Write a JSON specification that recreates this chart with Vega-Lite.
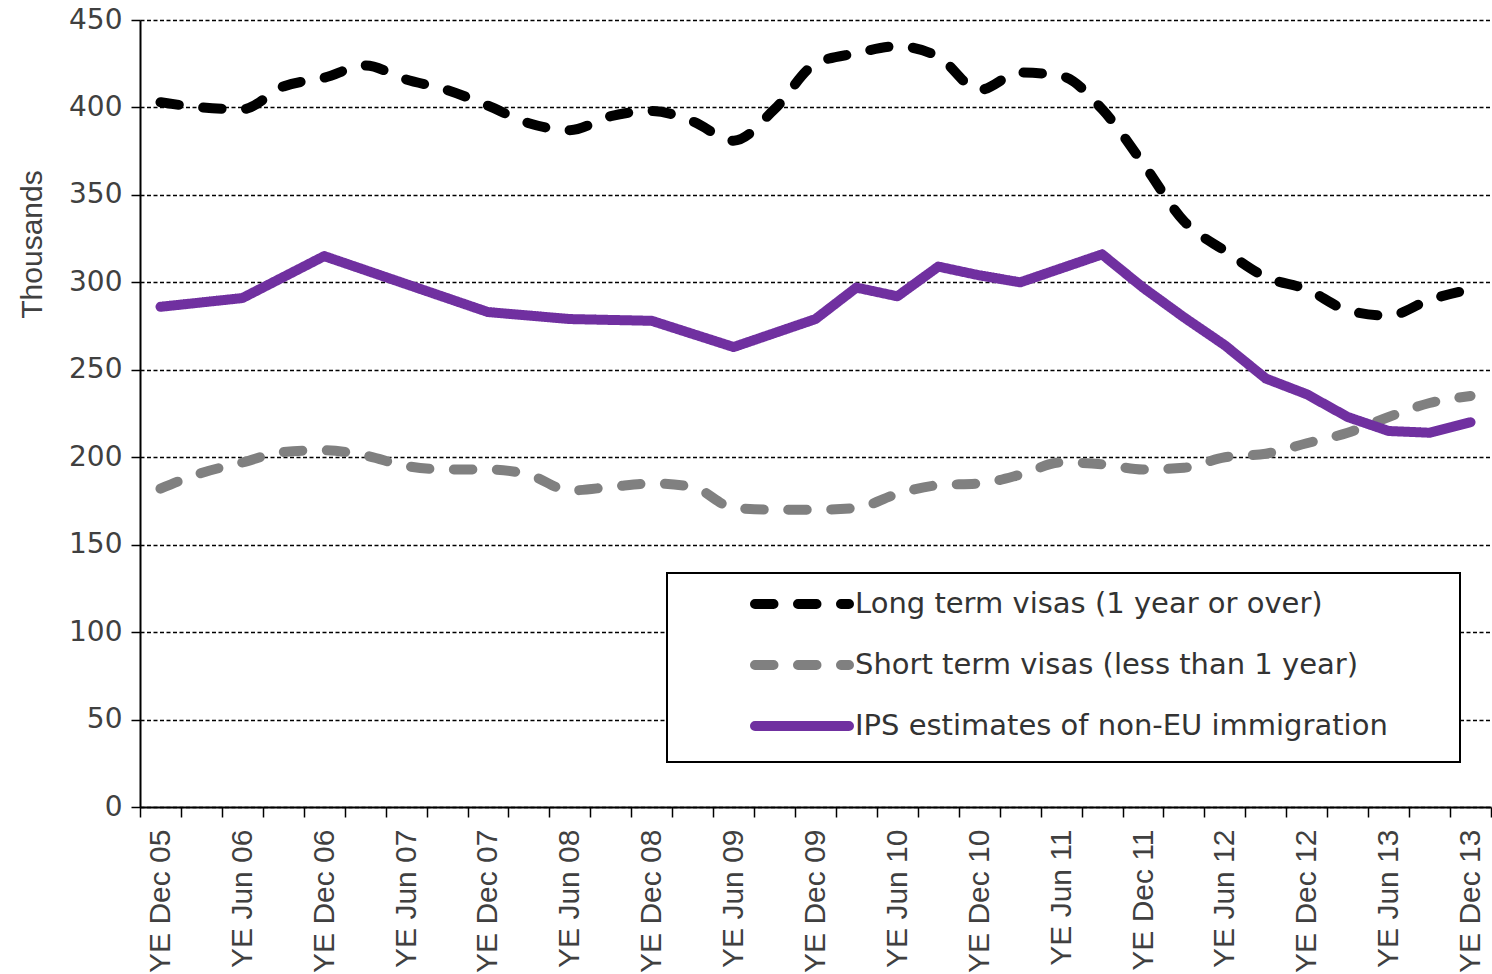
{
  "$schema": "https://vega.github.io/schema/vega-lite/v6.json",
  "width": 1351,
  "height": 787,
  "autosize": "none",
  "padding": {"left": 140, "top": 20, "right": 1, "bottom": 167},
  "background": "white",
  "config": {
    "font": "Liberation Sans",
    "view": {"stroke": null},
    "legend": {
      "orient": "none",
      "legendX": 527,
      "legendY": 553,
      "symbolType": "M5.7,0H15.1",
      "symbolSize": 400,
      "symbolStrokeWidth": 10,
      "labelFontSize": 29,
      "labelFont": "DejaVu Sans",
      "labelColor": "#333333",
      "labelOffset": 142,
      "labelLimit": 2000,
      "rowPadding": 21,
      "padding": 16,
      "strokeColor": "#000000",
      "strokeWidth": 2,
      "fillColor": "#ffffff"
    }
  },
  "data": {
    "values": [
      {"period": "YE Dec 05", "series": "Long term visas (1 year or over)", "value": 403},
      {"period": "YE Mar 06", "series": "Long term visas (1 year or over)", "value": 400},
      {"period": "YE Jun 06", "series": "Long term visas (1 year or over)", "value": 399},
      {"period": "YE Sep 06", "series": "Long term visas (1 year or over)", "value": 412},
      {"period": "YE Dec 06", "series": "Long term visas (1 year or over)", "value": 417},
      {"period": "YE Mar 07", "series": "Long term visas (1 year or over)", "value": 424},
      {"period": "YE Jun 07", "series": "Long term visas (1 year or over)", "value": 416},
      {"period": "YE Sep 07", "series": "Long term visas (1 year or over)", "value": 410},
      {"period": "YE Dec 07", "series": "Long term visas (1 year or over)", "value": 401},
      {"period": "YE Mar 08", "series": "Long term visas (1 year or over)", "value": 391},
      {"period": "YE Jun 08", "series": "Long term visas (1 year or over)", "value": 387},
      {"period": "YE Sep 08", "series": "Long term visas (1 year or over)", "value": 395},
      {"period": "YE Dec 08", "series": "Long term visas (1 year or over)", "value": 398},
      {"period": "YE Mar 09", "series": "Long term visas (1 year or over)", "value": 392},
      {"period": "YE Jun 09", "series": "Long term visas (1 year or over)", "value": 381},
      {"period": "YE Sep 09", "series": "Long term visas (1 year or over)", "value": 399},
      {"period": "YE Dec 09", "series": "Long term visas (1 year or over)", "value": 425},
      {"period": "YE Mar 10", "series": "Long term visas (1 year or over)", "value": 431},
      {"period": "YE Jun 10", "series": "Long term visas (1 year or over)", "value": 435},
      {"period": "YE Sep 10", "series": "Long term visas (1 year or over)", "value": 429},
      {"period": "YE Dec 10", "series": "Long term visas (1 year or over)", "value": 410},
      {"period": "YE Mar 11", "series": "Long term visas (1 year or over)", "value": 420},
      {"period": "YE Jun 11", "series": "Long term visas (1 year or over)", "value": 418},
      {"period": "YE Sep 11", "series": "Long term visas (1 year or over)", "value": 399},
      {"period": "YE Dec 11", "series": "Long term visas (1 year or over)", "value": 368},
      {"period": "YE Mar 12", "series": "Long term visas (1 year or over)", "value": 335},
      {"period": "YE Jun 12", "series": "Long term visas (1 year or over)", "value": 318},
      {"period": "YE Sep 12", "series": "Long term visas (1 year or over)", "value": 303},
      {"period": "YE Dec 12", "series": "Long term visas (1 year or over)", "value": 296},
      {"period": "YE Mar 13", "series": "Long term visas (1 year or over)", "value": 284},
      {"period": "YE Jun 13", "series": "Long term visas (1 year or over)", "value": 281},
      {"period": "YE Sep 13", "series": "Long term visas (1 year or over)", "value": 290},
      {"period": "YE Dec 13", "series": "Long term visas (1 year or over)", "value": 296},

      {"period": "YE Dec 05", "series": "Short term visas (less than 1 year)", "value": 182},
      {"period": "YE Mar 06", "series": "Short term visas (less than 1 year)", "value": 191},
      {"period": "YE Jun 06", "series": "Short term visas (less than 1 year)", "value": 197},
      {"period": "YE Sep 06", "series": "Short term visas (less than 1 year)", "value": 203},
      {"period": "YE Dec 06", "series": "Short term visas (less than 1 year)", "value": 204},
      {"period": "YE Mar 07", "series": "Short term visas (less than 1 year)", "value": 201},
      {"period": "YE Jun 07", "series": "Short term visas (less than 1 year)", "value": 195},
      {"period": "YE Sep 07", "series": "Short term visas (less than 1 year)", "value": 193},
      {"period": "YE Dec 07", "series": "Short term visas (less than 1 year)", "value": 193},
      {"period": "YE Mar 08", "series": "Short term visas (less than 1 year)", "value": 190},
      {"period": "YE Jun 08", "series": "Short term visas (less than 1 year)", "value": 181},
      {"period": "YE Sep 08", "series": "Short term visas (less than 1 year)", "value": 183},
      {"period": "YE Dec 08", "series": "Short term visas (less than 1 year)", "value": 185},
      {"period": "YE Mar 09", "series": "Short term visas (less than 1 year)", "value": 183},
      {"period": "YE Jun 09", "series": "Short term visas (less than 1 year)", "value": 171},
      {"period": "YE Sep 09", "series": "Short term visas (less than 1 year)", "value": 170},
      {"period": "YE Dec 09", "series": "Short term visas (less than 1 year)", "value": 170},
      {"period": "YE Mar 10", "series": "Short term visas (less than 1 year)", "value": 171},
      {"period": "YE Jun 10", "series": "Short term visas (less than 1 year)", "value": 179},
      {"period": "YE Sep 10", "series": "Short term visas (less than 1 year)", "value": 184},
      {"period": "YE Dec 10", "series": "Short term visas (less than 1 year)", "value": 185},
      {"period": "YE Mar 11", "series": "Short term visas (less than 1 year)", "value": 190},
      {"period": "YE Jun 11", "series": "Short term visas (less than 1 year)", "value": 197},
      {"period": "YE Sep 11", "series": "Short term visas (less than 1 year)", "value": 196},
      {"period": "YE Dec 11", "series": "Short term visas (less than 1 year)", "value": 193},
      {"period": "YE Mar 12", "series": "Short term visas (less than 1 year)", "value": 194},
      {"period": "YE Jun 12", "series": "Short term visas (less than 1 year)", "value": 200},
      {"period": "YE Sep 12", "series": "Short term visas (less than 1 year)", "value": 202},
      {"period": "YE Dec 12", "series": "Short term visas (less than 1 year)", "value": 208},
      {"period": "YE Mar 13", "series": "Short term visas (less than 1 year)", "value": 214},
      {"period": "YE Jun 13", "series": "Short term visas (less than 1 year)", "value": 223},
      {"period": "YE Sep 13", "series": "Short term visas (less than 1 year)", "value": 231},
      {"period": "YE Dec 13", "series": "Short term visas (less than 1 year)", "value": 235},

      {"period": "YE Dec 05", "series": "IPS estimates of non-EU immigration", "value": 286},
      {"period": "YE Jun 06", "series": "IPS estimates of non-EU immigration", "value": 291},
      {"period": "YE Dec 06", "series": "IPS estimates of non-EU immigration", "value": 315},
      {"period": "YE Jun 07", "series": "IPS estimates of non-EU immigration", "value": 299},
      {"period": "YE Dec 07", "series": "IPS estimates of non-EU immigration", "value": 283},
      {"period": "YE Jun 08", "series": "IPS estimates of non-EU immigration", "value": 279},
      {"period": "YE Dec 08", "series": "IPS estimates of non-EU immigration", "value": 278},
      {"period": "YE Jun 09", "series": "IPS estimates of non-EU immigration", "value": 263},
      {"period": "YE Dec 09", "series": "IPS estimates of non-EU immigration", "value": 279},
      {"period": "YE Mar 10", "series": "IPS estimates of non-EU immigration", "value": 297},
      {"period": "YE Jun 10", "series": "IPS estimates of non-EU immigration", "value": 292},
      {"period": "YE Sep 10", "series": "IPS estimates of non-EU immigration", "value": 309},
      {"period": "YE Dec 10", "series": "IPS estimates of non-EU immigration", "value": 304},
      {"period": "YE Mar 11", "series": "IPS estimates of non-EU immigration", "value": 300},
      {"period": "YE Jun 11", "series": "IPS estimates of non-EU immigration", "value": 308},
      {"period": "YE Sep 11", "series": "IPS estimates of non-EU immigration", "value": 316},
      {"period": "YE Dec 11", "series": "IPS estimates of non-EU immigration", "value": 297},
      {"period": "YE Mar 12", "series": "IPS estimates of non-EU immigration", "value": 280},
      {"period": "YE Jun 12", "series": "IPS estimates of non-EU immigration", "value": 264},
      {"period": "YE Sep 12", "series": "IPS estimates of non-EU immigration", "value": 245},
      {"period": "YE Dec 12", "series": "IPS estimates of non-EU immigration", "value": 236},
      {"period": "YE Mar 13", "series": "IPS estimates of non-EU immigration", "value": 223},
      {"period": "YE Jun 13", "series": "IPS estimates of non-EU immigration", "value": 215},
      {"period": "YE Sep 13", "series": "IPS estimates of non-EU immigration", "value": 214},
      {"period": "YE Dec 13", "series": "IPS estimates of non-EU immigration", "value": 220}
    ]
  },
  "encoding": {
    "x": {
      "field": "period",
      "type": "ordinal",
      "sort": ["YE Dec 05", "YE Mar 06", "YE Jun 06", "YE Sep 06", "YE Dec 06", "YE Mar 07", "YE Jun 07", "YE Sep 07", "YE Dec 07", "YE Mar 08", "YE Jun 08", "YE Sep 08", "YE Dec 08", "YE Mar 09", "YE Jun 09", "YE Sep 09", "YE Dec 09", "YE Mar 10", "YE Jun 10", "YE Sep 10", "YE Dec 10", "YE Mar 11", "YE Jun 11", "YE Sep 11", "YE Dec 11", "YE Mar 12", "YE Jun 12", "YE Sep 12", "YE Dec 12", "YE Mar 13", "YE Jun 13", "YE Sep 13", "YE Dec 13"],
      "scale": {"type": "band", "paddingInner": 0, "paddingOuter": 0},
      "bandPosition": 0.5,
      "title": null,
      "axis": {
        "labelAngle": -90,
        "labelExpr": "indexof(datum.label, 'Mar') >= 0 || indexof(datum.label, 'Sep') >= 0 ? '' : datum.label",
        "labelOverlap": false,
        "labelFontSize": 30,
        "labelColor": "#404040",
        "labelPadding": 12,
        "tickBand": "extent",
        "tickSize": 10,
        "tickWidth": 1.5,
        "tickColor": "#000000",
        "domainColor": "#000000",
        "domainWidth": 2,
        "grid": false
      }
    },
    "y": {
      "field": "value",
      "type": "quantitative",
      "scale": {"domain": [0, 450], "nice": false},
      "title": "Thousands",
      "axis": {
        "values": [0, 50, 100, 150, 200, 250, 300, 350, 400, 450],
        "grid": true,
        "gridColor": "#000000",
        "gridDash": [4, 2.5],
        "gridWidth": 1.3,
        "domainColor": "#000000",
        "domainWidth": 2,
        "tickColor": "#000000",
        "tickSize": 9,
        "tickWidth": 1.5,
        "labelFont": "DejaVu Sans",
        "labelFontSize": 28,
        "labelColor": "#404040",
        "labelPadding": 9,
        "titleFontSize": 30,
        "titleFontWeight": "normal",
        "titleColor": "#404040",
        "titleAngle": -90,
        "titleX": -108,
        "titleY": 224,
        "titleAlign": "center",
        "titleBaseline": "middle"
      }
    },
    "color": {
      "field": "series",
      "type": "nominal",
      "title": null,
      "scale": {
        "domain": ["Long term visas (1 year or over)", "Short term visas (less than 1 year)", "IPS estimates of non-EU immigration"],
        "range": ["#000000", "#808080", "#7030a0"]
      },
      "legend": {
        "labelExpr": "datum.label + '\u00a0\u00a0\u00a0\u00a0\u00a0\u00a0\u200b'",
        "encode": {"symbols": {"update": {"strokeCap": {"value": "round"}, "strokeDash": {"signal": "datum.value === 'IPS estimates of non-EU immigration' ? [1, 0] : [29, 17.5]"}}}}
      }
    },
    "strokeDash": {
      "field": "series",
      "type": "nominal",
      "title": null,
      "scale": {
        "domain": ["Long term visas (1 year or over)", "Short term visas (less than 1 year)", "IPS estimates of non-EU immigration"],
        "range": [[18.5, 24.5], [18.5, 24.5], [1, 0]]
      },
      "legend": {
        "labelExpr": "datum.label + '\u00a0\u00a0\u00a0\u00a0\u00a0\u00a0\u200b'",
        "encode": {"symbols": {"update": {"strokeCap": {"value": "round"}, "strokeDash": {"signal": "datum.value === 'IPS estimates of non-EU immigration' ? [1, 0] : [29, 17.5]"}}}}
      }
    }
  },
  "layer": [
    {
      "transform": [{"filter": "datum.series !== 'IPS estimates of non-EU immigration'"}],
      "mark": {"type": "line", "interpolate": "monotone", "strokeWidth": 10, "strokeCap": "round"}
    },
    {
      "transform": [{"filter": "datum.series === 'IPS estimates of non-EU immigration'"}],
      "mark": {"type": "line", "strokeWidth": 10, "strokeCap": "round", "strokeJoin": "round"}
    }
  ]
}
